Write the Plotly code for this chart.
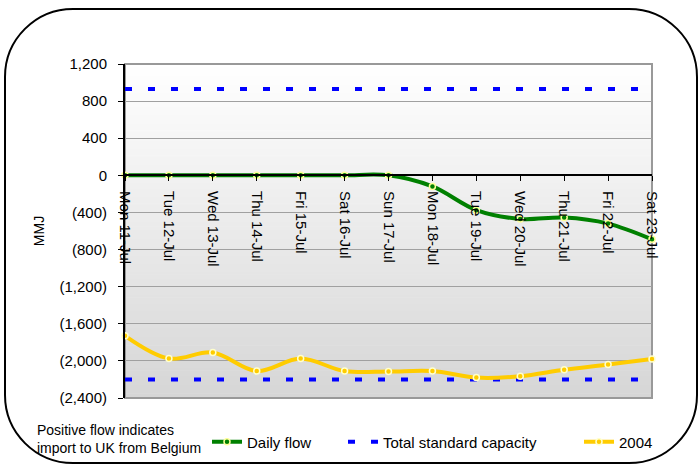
import plotly.graph_objects as go

# ---- data -----------------------------------------------------------------
days = ["Mon 11-Jul", "Tue 12-Jul", "Wed 13-Jul", "Thu 14-Jul", "Fri 15-Jul",
        "Sat 16-Jul", "Sun 17-Jul", "Mon 18-Jul", "Tue 19-Jul", "Wed 20-Jul",
        "Thu 21-Jul", "Fri 22-Jul", "Sat 23-Jul"]
daily_flow = [0, 0, 0, 0, 0, 0, 0, -120, -375, -470, -455, -520, -690]
flow_2004 = [-1730, -1975, -1910, -2110, -1975, -2110, -2115, -2110, -2180,
             -2165, -2095, -2040, -1980]
capacity_import = [930, 930, 930, 930, 930, 930, 930, 930, 930, 930, 930, 930, 930]
capacity_export = [-2200, -2200, -2200, -2200, -2200, -2200, -2200, -2200,
                   -2200, -2200, -2200, -2200, -2200]

y_ticks = [-2400, -2000, -1600, -1200, -800, -400, 0, 400, 800, 1200]
y_tick_text = ["(2,400)", "(2,000)", "(1,600)", "(1,200)", "(800)", "(400)",
               "0", "400", "800", "1,200"]

# ---- geometry helpers (pixel -> paper) -------------------------------------
W, H = 699, 465
L, R, T, B = 125, 652, 64, 398


def px(x):
    return (x - L) / (R - L)


def py(y):
    return (B - y) / (B - T)


FONT = "Liberation Sans, Arial, sans-serif"
GREEN = "#008000"
BLUE = "#0000FF"
YELLOW = "#FFCC00"

fig = go.Figure()

fig.add_trace(go.Scatter(
    x=days, y=daily_flow, name="Daily flow", mode="lines+markers",
    line=dict(color=GREEN, width=4, shape="spline"),
    marker=dict(color=GREEN, size=6, line=dict(color="#FFFF99", width=1.5)),
    cliponaxis=False, legend="legend",
))
fig.add_trace(go.Scatter(
    x=days, y=capacity_import, name="Total standard capacity", mode="lines",
    line=dict(color=BLUE, width=4, dash="7px,16px"),
    legend="legend2",
))
fig.add_trace(go.Scatter(
    x=days, y=capacity_export, name="Total standard capacity", mode="lines",
    line=dict(color=BLUE, width=4, dash="7px,16px"),
    showlegend=False,
))
fig.add_trace(go.Scatter(
    x=days, y=flow_2004, name="2004", mode="lines+markers",
    line=dict(color=YELLOW, width=4, shape="spline"),
    marker=dict(color=YELLOW, size=6, line=dict(color="#FFFFCC", width=1.5)),
    cliponaxis=False, legend="legend3",
))

# ---- plot-area background: vertical white -> grey gradient ------------------
shapes = []
n_bands = 160
for i in range(n_bands):
    t = (i + 0.5) / n_bands          # 0 at top, 1 at bottom
    g = round(255 - t * (255 - 214))
    shapes.append(dict(
        type="rect", xref="x domain", yref="y domain",
        x0=0, x1=1, y0=1 - (i + 1) / n_bands, y1=1 - i / n_bands + 0.002,
        fillcolor=f"rgb({g},{g},{g})", line=dict(width=0), layer="below",
    ))
shapes.append(dict(
    type="rect", xref="x domain", yref="y domain", x0=0, x1=1, y0=0, y1=1,
    line=dict(color="#999999", width=2), fillcolor="rgba(0,0,0,0)", layer="below",
))

# ---- rounded outer border --------------------------------------------------
bx0, bx1, by0, by1, rad = 5, 697, 9, 463, 68
k = 0.5523 * rad


def P(x, y):
    return f"{px(x):.5f},{py(y):.5f}"


path = (
    f"M{P(bx0 + rad, by0)} L{P(bx1 - rad, by0)} "
    f"C{P(bx1 - rad + k, by0)} {P(bx1, by0 + rad - k)} {P(bx1, by0 + rad)} "
    f"L{P(bx1, by1 - rad)} "
    f"C{P(bx1, by1 - rad + k)} {P(bx1 - rad + k, by1)} {P(bx1 - rad, by1)} "
    f"L{P(bx0 + rad, by1)} "
    f"C{P(bx0 + rad - k, by1)} {P(bx0, by1 - rad + k)} {P(bx0, by1 - rad)} "
    f"L{P(bx0, by0 + rad)} "
    f"C{P(bx0, by0 + rad - k)} {P(bx0 + rad - k, by0)} {P(bx0 + rad, by0)} Z"
)
shapes.append(dict(type="path", xref="paper", yref="paper", path=path,
                   line=dict(color="black", width=2), layer="above"))

legend_common = dict(orientation="h", yanchor="middle", y=py(442), xanchor="left",
                     bgcolor="rgba(0,0,0,0)", font=dict(family=FONT, size=15, color="black"),
                     itemclick=False)

fig.update_layout(
    width=W, height=H,
    margin=dict(l=L, r=W - R, t=T, b=H - B, pad=0, autoexpand=False),
    paper_bgcolor="white", plot_bgcolor="white",
    font=dict(family=FONT, size=15, color="black"),
    shapes=shapes,
    legend=dict(legend_common, x=px(207)),
    legend2=dict(legend_common, x=px(343)),
    legend3=dict(legend_common, x=px(579)),
    annotations=[dict(
        text="Positive flow indicates<br>import to UK from Belgium",
        xref="paper", yref="paper", x=px(35), y=py(420),
        xanchor="left", yanchor="top", align="left", showarrow=False,
        font=dict(family=FONT, size=14, color="black"),
    )],
)

fig.update_xaxes(
    type="category", range=[0, len(days) - 1],
    anchor="free", position=2 / 3,
    showline=True, linecolor="black", linewidth=1.5,
    ticks="outside", ticklen=5, tickcolor="black", tickwidth=1,
    tickangle=90, showgrid=False, zeroline=False,
    ticklabelstandoff=7,
    tickfont=dict(family=FONT, size=15, color="black"),
)
fig.update_yaxes(
    range=[-2400, 1200], tickvals=y_ticks, ticktext=y_tick_text,
    showline=True, linecolor="black", linewidth=2,
    ticks="outside", ticklen=5, tickcolor="black",
    showgrid=True, gridcolor="#A0A0A0", gridwidth=1, zeroline=False,
    ticklabelstandoff=8,
    tickfont=dict(family=FONT, size=15, color="black"),
    title=dict(text="MMJ", standoff=12, font=dict(family=FONT, size=14, color="black")),
)

fig.write_html("out.html")
